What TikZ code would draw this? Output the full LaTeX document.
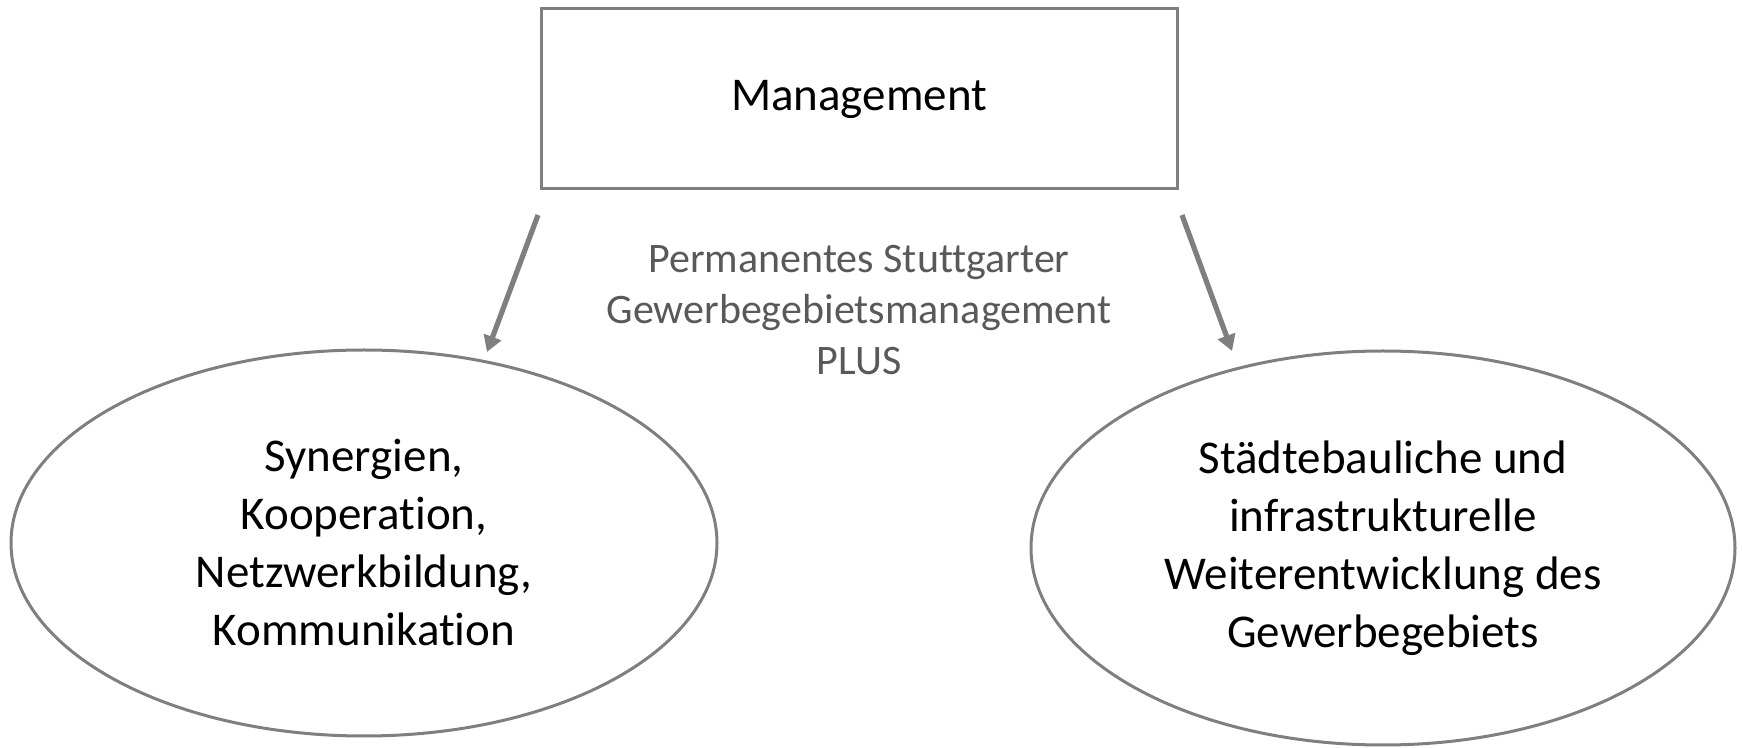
\documentclass[tikz,border=0pt]{standalone}
\usepackage{fontspec}
\setmainfont{Carlito}[Ligatures=NoCommon]
\usetikzlibrary{shapes.geometric,arrows.meta}
\definecolor{framegray}{HTML}{7F7F7F}
\definecolor{textgray}{HTML}{595959}
\tikzset{
  mgmtbox/.style={draw=framegray, line width=1.5pt, rectangle, minimum width=318pt, minimum height=90pt, inner sep=0pt,
    font=\fontsize{23.5}{29}\selectfont},
  goalell/.style={draw=framegray, line width=1.5pt, ellipse, inner sep=0pt, align=center,
    font=\fontsize{23.5}{29}\selectfont},
  flowarrow/.style={draw=framegray, line width=2.6pt, -{Triangle[length=8pt,width=9pt]}}
}
\begin{document}
\begin{tikzpicture}[x=0.5pt,y=-0.5pt]
		\useasboundingbox (0,0) rectangle (1742,748);
		% Box on top
		\node[mgmtbox] (mgmt) at (859,99) {Management};
		% Text between the arrows
		\node[align=center, text=textgray, font=\fontsize{21}{25.3}\selectfont] (plus) at (859,310)
		  {Permanentes Stuttgarter\\Gewerbegebietsmanagement\\PLUS};
		% The two fields
		\node[goalell, minimum width=353pt, minimum height=193pt] (synergy) at (364,543)
		  {Synergien,\\Kooperation,\\Netzwerkbildung,\\Kommunikation};
		\node[goalell, minimum width=352pt, minimum height=197pt] (urban) at (1383,548)
		  {Städtebauliche und\\infrastrukturelle\\Weiterentwicklung des\\Gewerbegebiets};
		% Arrow ends
		\coordinate (LeftStart)  at (538,215);
		\coordinate (LeftEnd)    at (487,352);
		\coordinate (RightStart) at (1182,215);
		\coordinate (RightEnd)   at (1232,351);
		\draw[flowarrow] (LeftStart) -- (LeftEnd);% to the left ellipse
		\draw[flowarrow] (RightStart) -- (RightEnd);% to the right ellipse
	  \end{tikzpicture}
\end{document}
